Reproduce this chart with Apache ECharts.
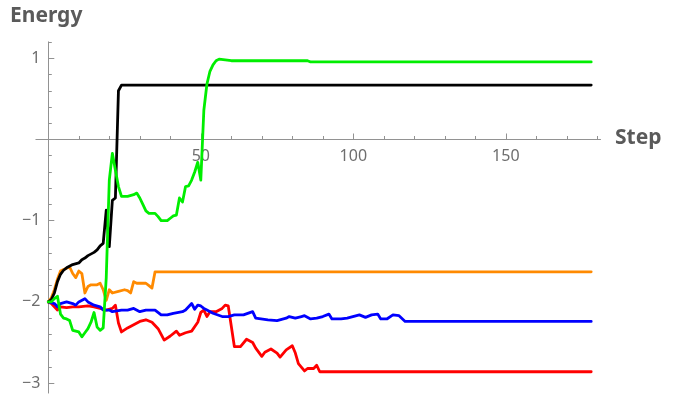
<!DOCTYPE html>
<html><head><meta charset="utf-8">
<script src="https://cdn.jsdelivr.net/npm/echarts@6/dist/echarts.min.js"></script>
<style>html,body{margin:0;padding:0;background:#fff}#c{width:676px;height:394px}</style>
</head><body><div id="c"></div>
<script>
// Tick positions
const xMajorTicks = [50, 100, 150];
const xMinorTicks = [10, 20, 30, 40, 60, 70, 80, 90, 110, 120, 130, 140, 160, 170, 180];
const yMajorTicks = [-3, -2, -1, 1];
const yMinorTicks = [-2.8, -2.6, -2.4, -2.2, -1.8, -1.6, -1.4, -1.2, -0.8, -0.6, -0.4, -0.2, 0.2, 0.4, 0.6, 0.8, 1.2];

// Series data (step, energy)
const blackSteps = [0,1,2,3,4,5,6,8,10,11,12,13,15,16,17,18,19,20,21,22,23,24,178];
const blackValues = [-2.0,-1.97,-1.89,-1.75,-1.66,-1.61,-1.58,-1.54,-1.52,-1.48,-1.46,-1.43,-1.39,-1.36,-1.31,-1.28,-0.87,-1.32,-0.75,-0.72,0.6,0.67,0.67];

const greenSteps = [0,1,2,3,4,5,6,7,8,9,10,11,12,13,14,15,16,17,18,19,20,21,22,23,24,26,28,29,30,31,32,33,35,36,37,39,40,41,42,43,44,45,46,47,48,49,50,51,52,53,54,55,56,58,60,66,85,86,178];
const greenValues = [-2.0,-2.0,-1.96,-1.93,-2.15,-2.2,-2.21,-2.23,-2.35,-2.36,-2.37,-2.43,-2.38,-2.33,-2.25,-2.13,-2.31,-2.35,-2.32,-1.7,-0.5,-0.17,-0.38,-0.58,-0.7,-0.7,-0.68,-0.66,-0.72,-0.8,-0.88,-0.91,-0.91,-0.95,-1.0,-1.0,-0.97,-0.94,-0.93,-0.72,-0.77,-0.58,-0.57,-0.5,-0.4,-0.28,-0.5,0.36,0.68,0.84,0.92,0.97,0.99,0.98,0.97,0.97,0.97,0.955,0.955];

const orangeSteps = [0,1,2,3,4,5,7,8,9,10,11,12,13,14,16,17,18,19,20,21,23,25,26,27,28,29,32,33,34,35,178];
const orangeValues = [-2.0,-1.95,-1.85,-1.72,-1.62,-1.6,-1.57,-1.65,-1.7,-1.62,-1.65,-1.89,-1.81,-1.79,-1.79,-1.77,-1.85,-1.98,-1.85,-1.89,-1.87,-1.85,-1.86,-1.89,-1.75,-1.77,-1.77,-1.8,-1.83,-1.63,-1.63];

const blueSteps = [0,2,3,4,6,8,9,10,12,13,15,17,18,20,21,24,26,28,30,32,35,37,39,41,44,45,47,48,49,50,51,52,54,57,59,61,64,67,68,72,75,78,79,81,83,84,86,88,90,92,93,96,98,102,104,106,108,109,111,113,115,117,178];
const blueValues = [-2.0,-2.02,-2.06,-2.02,-2.0,-2.02,-2.04,-2.0,-1.96,-2.0,-2.04,-2.06,-2.1,-2.1,-2.12,-2.1,-2.1,-2.08,-2.12,-2.1,-2.1,-2.16,-2.16,-2.14,-2.12,-2.1,-2.02,-2.09,-2.04,-2.05,-2.08,-2.1,-2.14,-2.18,-2.18,-2.16,-2.16,-2.12,-2.2,-2.22,-2.23,-2.2,-2.18,-2.2,-2.18,-2.17,-2.21,-2.2,-2.18,-2.15,-2.21,-2.21,-2.2,-2.16,-2.19,-2.16,-2.15,-2.21,-2.21,-2.16,-2.17,-2.24,-2.24];

const redSteps = [0,1,3,4,6,8,10,13,15,17,19,21,22,23,24,26,28,30,32,34,36,38,40,42,43,45,47,49,50,51,52,53,55,57,58,59,60,61,63,65,67,68,70,71,73,75,76,78,80,81,82,84,85,87,88,89,178];
const redValues = [-2.0,-2.02,-2.1,-2.06,-2.07,-2.06,-2.06,-2.05,-2.06,-2.08,-2.1,-2.08,-2.04,-2.26,-2.37,-2.32,-2.28,-2.24,-2.22,-2.25,-2.33,-2.47,-2.42,-2.36,-2.41,-2.38,-2.36,-2.25,-2.13,-2.1,-2.18,-2.12,-2.12,-2.08,-2.04,-2.05,-2.3,-2.55,-2.55,-2.46,-2.5,-2.57,-2.67,-2.62,-2.58,-2.63,-2.68,-2.59,-2.54,-2.63,-2.76,-2.85,-2.82,-2.82,-2.78,-2.86,-2.86];

const zip = (xs, ys) => xs.map((x, i) => [x, ys[i]]);
const AX = '#929292';
const LBL = '#6e6e6e';
const FONT = '"Noto Sans", "Open Sans", sans-serif';
const minus = v => (v < 0 ? '\u2212' + Math.abs(v) : String(v));

const W = 676, H = 394;
const G = { left: 36.1, right: 75.65, top: 42.06, bottom: 1.14 };
const X_MIN = -4, X_MAX = 181, Y_MIN = -3.12, Y_MAX = 1.2;
const gw = W - G.left - G.right, gh = H - G.top - G.bottom;
// place axes so they cross at (0,0), like onZero
const yAxisOffset = -(0 - X_MIN) / (X_MAX - X_MIN) * gw;
const xAxisOffset = -(0 - Y_MIN) / (Y_MAX - Y_MIN) * gh;

const xBase = {
  type: 'value', min: X_MIN, max: X_MAX, position: 'bottom', offset: xAxisOffset,
  axisLine: { onZero: false, lineStyle: { color: AX, width: 1 } },
  splitLine: { show: false }
};
const yBase = {
  type: 'value', min: Y_MIN, max: Y_MAX, position: 'left', offset: yAxisOffset,
  axisLine: { onZero: false, lineStyle: { color: AX, width: 1 } },
  splitLine: { show: false }
};

function line(name, steps, vals, color) {
  return {
    name, type: 'line', data: zip(steps, vals), showSymbol: false, symbol: 'none',
    xAxisIndex: 0, yAxisIndex: 0,
    lineStyle: { color, width: 2.8, join: 'round', cap: 'round' },
    animation: false
  };
}

const chart = echarts.init(document.getElementById('c'), null, { renderer: 'canvas' });
chart.setOption({
  animation: false,
  backgroundColor: '#ffffff',
  grid: Object.assign({ containLabel: false, outerBoundsMode: 'none' }, G),
  xAxis: [
    Object.assign({}, xBase, {
      axisTick: { inside: true, length: 6, customValues: xMajorTicks, lineStyle: { color: AX } },
      axisLabel: { customValues: xMajorTicks, margin: 9, color: LBL, fontSize: 16, fontFamily: FONT }
    }),
    Object.assign({}, xBase, {
      axisTick: { inside: true, length: 3.5, customValues: xMinorTicks, lineStyle: { color: AX } },
      axisLabel: { show: false }
    })
  ],
  yAxis: [
    Object.assign({}, yBase, {
      axisTick: { inside: true, length: 6, customValues: yMajorTicks, lineStyle: { color: AX } },
      axisLabel: { customValues: yMajorTicks, margin: 8, color: LBL, fontSize: 16, fontFamily: FONT, formatter: minus }
    }),
    Object.assign({}, yBase, {
      axisTick: { inside: true, length: 3.5, customValues: yMinorTicks, lineStyle: { color: AX } },
      axisLabel: { show: false }
    })
  ],
  graphic: [
    { type: 'text', left: 10, top: 6, style: { text: 'Energy', font: 'bold 21px ' + FONT, fill: '#5a5a5a' } },
    { type: 'text', left: 615, top: 128, style: { text: 'Step', font: 'bold 21px ' + FONT, fill: '#5a5a5a' } }
  ],
  series: [
    line('red', redSteps, redValues, '#ff0000'),
    line('blue', blueSteps, blueValues, '#0000ff'),
    line('orange', orangeSteps, orangeValues, '#ff8a00'),
    line('black', blackSteps, blackValues, '#000000'),
    line('green', greenSteps, greenValues, '#00ee00')
  ]
});
</script>
</body></html>
